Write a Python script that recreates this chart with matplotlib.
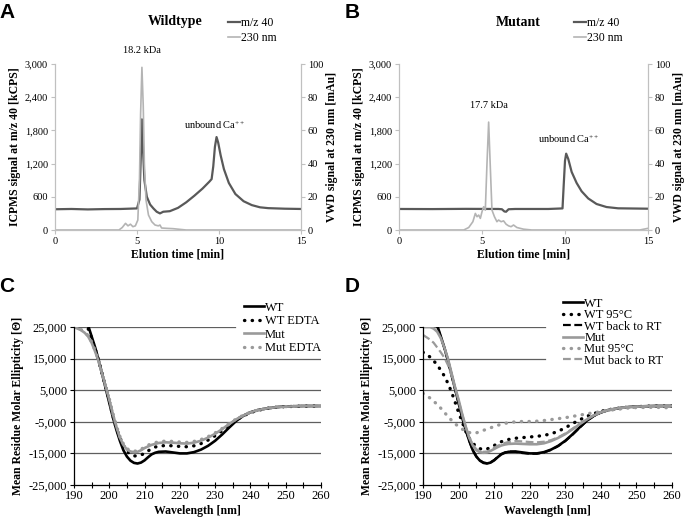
import matplotlib
matplotlib.use("Agg")
import matplotlib.pyplot as plt
from matplotlib.ticker import FuncFormatter, MultipleLocator

plt.rcParams["font.family"] = "serif"
plt.rcParams["font.serif"] = ["Liberation Serif"]
plt.rcParams["mathtext.fontset"] = "custom"
plt.rcParams["mathtext.rm"] = "Liberation Serif"
plt.rcParams["mathtext.it"] = "Liberation Serif:italic"
plt.rcParams["mathtext.bf"] = "Liberation Serif:bold"

# ---- A: wildtype SEC-ICPMS ----
a_icp_t = [0, 1, 2, 3, 4, 5.0, 5.15, 5.22, 5.3, 5.36, 5.45, 5.6, 5.8, 6.0, 6.2, 6.4, 6.6, 7.0,
           7.5, 8.0, 8.5, 9.0, 9.4, 9.55, 9.65, 9.75, 9.85, 9.95, 10.1, 10.3, 10.6, 11.0, 11.5,
           12.0, 12.5, 13.0, 14.0, 15.0]
a_icp_v = [375, 380, 372, 378, 380, 390, 550, 1200, 2000, 1500, 900, 600, 460, 390, 330, 300, 330, 340,
           400, 500, 620, 750, 870, 920, 1150, 1500, 1680, 1580, 1350, 1100, 850, 650, 520,
           450, 410, 395, 385, 380]
a_uv_t = [0, 3.9, 4.1, 4.3, 4.45, 4.6, 4.75, 4.9, 5.05, 5.15, 5.22, 5.3, 5.38, 5.45, 5.55, 5.7, 5.9,
          6.1, 6.3, 6.4, 6.5, 6.8, 7.2, 7.6, 8.0, 15]
a_uv_v = [0, 0, 1.5, 4.0, 2.5, 3.5, 2.0, 2.5, 6, 30, 70, 98, 75, 40, 18, 9, 5,
          3, 2.5, 3.0, 1.2, 1.0, 0.8, 0.4, 0, 0]

# ---- B: mutant SEC-ICPMS ----
b_icp_t = [0, 2, 4, 6.0, 6.2, 6.35, 6.45, 6.6, 7, 9, 9.85, 9.92, 10.0, 10.07, 10.2, 10.4, 10.7,
           11.0, 11.4, 11.9, 12.5, 13.2, 15]
b_icp_v = [380, 378, 382, 380, 375, 335, 330, 375, 380, 380, 390, 800, 1250, 1380, 1280, 1050, 850,
           700, 570, 470, 415, 392, 385]
b_uv_t = [0, 3.9, 4.2, 4.45, 4.6, 4.7, 4.8, 4.9, 5.0, 5.1, 5.2, 5.3, 5.4, 5.5, 5.6, 5.75, 5.9,
          6.0, 6.15, 6.3, 6.45, 6.6, 6.75, 6.9, 7.1, 7.5, 8.0, 14.5, 15]
b_uv_v = [0, 0, 1.5, 5, 10, 8, 9, 7, 11, 14, 12, 40, 65, 38, 12, 8, 5,
          6, 5, 5.5, 3.5, 2.5, 2, 3, 1.5, 0.5, 0, 0, 1]

# ---- C: CD spectra, EDTA ----
wl = [190, 192, 193, 194, 195, 196, 197, 198, 199, 200, 201, 202, 203, 204, 205, 206, 207, 208,
      209, 210, 211, 212, 213, 214, 216, 218, 220, 222, 224, 226, 228, 230, 232, 234, 236, 238,
      240, 242, 245, 248, 250, 255, 260]
wt = [34000, 30000, 28000, 25500, 22000, 18500, 14500, 10000, 5500, 1000, -3500, -7500, -11000,
      -14000, -16000, -17300, -18000, -18200, -17900, -17200, -16200, -15300, -14800, -14500,
      -14400, -14700, -15000, -15000, -14600, -13800, -12600, -11000, -9000, -6800, -4700, -3100,
      -2000, -1300, -700, -300, -150, 0, 0]
wt_edta = [30000, 27500, 26500, 24500, 21500, 18000, 14200, 10000, 5800, 1500, -3000, -7000,
           -10000, -12500, -14300, -15300, -15800, -15800, -15500, -15000, -14200, -13500, -13000,
           -12700, -12500, -12600, -12800, -12900, -12600, -11900, -10800, -9400, -7800, -6000,
           -4400, -3100, -2100, -1400, -700, -300, -200, -50, 0]
mut = [25000, 24000, 23200, 22000, 20000, 17200, 14000, 10000, 6000, 2000, -2500, -6500, -10000,
       -12300, -13800, -14400, -14600, -14500, -14000, -13300, -12800, -12300, -12000, -11700,
       -11500, -11600, -11800, -11900, -11600, -11000, -10000, -8800, -7300, -5700, -4200, -3000,
       -2000, -1300, -700, -300, -200, 0, 0]
mut_edta = [25000, 24200, 23400, 22300, 20300, 17500, 14300, 10300, 6300, 2300, -2200, -6200,
            -9600, -12000, -13500, -14100, -14300, -14200, -13700, -13000, -12400, -11900, -11600,
            -11300, -11100, -11200, -11400, -11500, -11200, -10600, -9700, -8500, -7100, -5500,
            -4100, -2900, -2000, -1300, -700, -300, -200, 0, 0]

# ---- D: CD spectra, heat ----
wt_95 = [17000, 15500, 14300, 13000, 11300, 9500, 7200, 4500, 1300, -2000, -5000, -8000, -10200,
         -11800, -12800, -13500, -13800, -13600, -13100, -12500, -11900, -11300, -10900, -10600,
         -10200, -10000, -9800, -9600, -9300, -8800, -8000, -6900, -5600, -4400, -3300, -2400,
         -1700, -1200, -700, -300, -200, 0, 0]
wt_rt = [33000, 29500, 27500, 25200, 21800, 18300, 14300, 9900, 5400, 900, -3600, -7600, -11000,
         -14000, -16000, -17200, -17900, -18100, -17800, -17100, -16100, -15200, -14700, -14400,
         -14500, -14900, -15100, -15100, -14700, -13900, -12700, -11100, -9100, -6900, -4800, -3200,
         -2100, -1400, -700, -300, -150, 0, 0]
mut_95 = [4000, 2500, 1500, 500, -700, -2000, -3300, -4500, -5600, -6500, -7300, -8000, -8400,
          -8600, -8500, -8100, -7700, -7300, -6900, -6500, -6100, -5800, -5500, -5300, -5000,
          -4900, -4900, -4800, -4600, -4300, -4000, -3700, -3300, -2900, -2500, -2100, -1800,
          -1400, -1000, -600, -500, -400, -600]
mut_rt = [22500, 21000, 20000, 18500, 17000, 15300, 13000, 9700, 5800, 1800, -2600, -6600, -10000,
          -12300, -13700, -14300, -14500, -14400, -13900, -13200, -12600, -12100, -11700, -11400,
          -11100, -11200, -11400, -11500, -11300, -10800, -9900, -8700, -7200, -5600, -4100, -2900,
          -1900, -1200, -700, -300, -200, 0, 0]
mut_d = [25000, 25000, 24500, 23500, 21500, 18500, 15000, 10500, 6000, 2000, -2500, -6500, -10000,
         -12500, -14000, -14600, -14800, -14700, -14200, -13600, -13000, -12500, -12200, -12000,
         -11900, -12000, -12100, -12100, -11800, -11100, -10100, -8900, -7400, -5800, -4300, -3000,
         -2000, -1300, -700, -300, -200, 0, 0]

cd_ticks = [-25000, -15000, -5000, 5000, 15000, 25000]

W, H = 685, 521
fig = plt.figure(figsize=(6.85, 5.21), dpi=100)


def box(l, t, r, b):
    return [l / W, 1 - b / H, (r - l) / W, (b - t) / H]


thou = FuncFormatter(lambda v, p: "{:,.0f}".format(v))
dark = "#595959"
light = "#b4b4b4"


def sec_panel(rect, t1, v1, t2, v2, title, ttl_x, leg_x, peak_lab, peak_xy, ca_xy):
    ax = fig.add_axes(rect)
    ax2 = ax.twinx()
    ax.plot(t1, v1, color=dark, lw=1.6)
    ax2.plot(t2, v2, color=light, lw=1.2)
    ax.set_xlim(0, 15)
    ax.set_ylim(0, 3000)
    ax2.set_ylim(0, 100)
    ax.set_xticks([0, 5, 10, 15])
    ax.set_yticks(range(0, 3001, 600))
    ax2.set_yticks(range(0, 101, 20))
    ax.yaxis.set_major_formatter(thou)
    for a in (ax, ax2):
        for s in a.spines.values():
            s.set_color("#c0c0c0")
            s.set_linewidth(0.8)
        a.spines["top"].set_visible(False)
        a.tick_params(labelsize=7.5, length=3, width=0.8, color="#c0c0c0", pad=2)
    ax.set_xlabel("Elution time [min]", fontsize=8.5, fontweight="bold", labelpad=2)
    ax.set_ylabel("ICPMS signal at m/z 40 [kCPS]", fontsize=8.5, fontweight="bold", labelpad=3)
    ax2.set_ylabel("VWD signal at 230 nm [mAu]", fontsize=8.5, fontweight="bold", labelpad=2)
    ax.text(peak_xy[0], peak_xy[1], peak_lab, fontsize=7.5, ha="center", va="center", clip_on=False)
    ax.text(ca_xy[0], ca_xy[1], "unbound Ca$^{++}$", fontsize=7.5, ha="center", va="center")
    fig.text(ttl_x / W, 1 - 22 / H, title, fontsize=10, fontweight="bold", ha="center", va="center")
    h1, = ax.plot([], [], color=dark, lw=1.6)
    h2, = ax.plot([], [], color=light, lw=1.2)
    fig.legend([h1, h2], ["m/z 40", "230 nm"], loc="upper left",
               bbox_to_anchor=(leg_x / W, 1 - 11 / H), frameon=False, fontsize=8.5,
               handlelength=1.0, handletextpad=0.15, labelspacing=0.3, borderpad=0)


sec_panel(box(55, 64, 301, 230), a_icp_t, a_icp_v, a_uv_t, a_uv_v, "Wildtype", 175, 222,
          "18.2 kDa", (5.3, 3250), (9.75, 1900))
sec_panel(box(399, 64, 648, 230), b_icp_t, b_icp_v, b_uv_t, b_uv_v, "Mutant", 518, 568,
          "17.7 kDa", (5.4, 2250), (10.2, 1650))


def cd_panel(rect, series, grid_end, leg_anchor, leg_space):
    ax = fig.add_axes(rect)
    for v in cd_ticks[1:]:
        ax.axhline(v, xmax=grid_end.get(v, 1.0), color="#5f5f5f", lw=0.9, zorder=0.5)
    for y, col, ls, lw, lab in series:
        ln, = ax.plot(wl, y, color=col, lw=lw, label=lab)
        if ls == "dot":
            ln.set_linestyle((0, (0.1, 2.2)))
            ln.set_dash_capstyle("round")
        elif ls == "dash":
            ln.set_linestyle((0, (3.5, 1.6)))
    ax.set_xlim(190, 260)
    ax.set_ylim(-25000, 25000)
    ax.set_xticks(range(190, 261, 10))
    ax.xaxis.set_minor_locator(MultipleLocator(5))
    ax.set_yticks(cd_ticks)
    ax.yaxis.set_major_formatter(thou)
    for s in ("top", "right"):
        ax.spines[s].set_visible(False)
    for s in ("left", "bottom"):
        ax.spines[s].set_color("black")
        ax.spines[s].set_linewidth(0.9)
    ax.tick_params(axis="x", which="both", direction="inout", length=5, width=0.8, labelsize=9, pad=1)
    ax.tick_params(axis="y", direction="out", length=3, width=0.8, labelsize=9, pad=2)
    ax.set_xlabel("Wavelength [nm]", fontsize=8.5, fontweight="bold", labelpad=2)
    ax.set_ylabel("Mean Residue Molar Ellipticity [\u0398]", fontsize=8.5, fontweight="bold", labelpad=3)
    ax.legend(loc="upper right", bbox_to_anchor=leg_anchor, fontsize=9, frameon=False,
              handlelength=1.6, handletextpad=0.1, labelspacing=leg_space, borderpad=0,
              borderaxespad=0)
    return ax


k, g = "black", "#9a9a9a"
cd_panel(box(74, 327, 321, 485),
         [(wt, k, "-", 1.9, "WT"), (wt_edta, k, "dot", 2.4, "WT EDTA"),
          (mut, g, "-", 1.9, "Mut"), (mut_edta, g, "dot", 2.4, "Mut EDTA")],
         {25000: 0.652}, (1.0, 1.16), 0.12)
cd_panel(box(423, 327, 672, 485),
         [(wt, k, "-", 1.9, "WT"), (wt_95, k, "dot", 2.4, "WT 95\u00b0C"),
          (wt_rt, k, "dash", 1.6, "WT back to RT"), (mut_d, g, "-", 1.9, "Mut"),
          (mut_95, g, "dot", 2.4, "Mut 95\u00b0C"), (mut_rt, g, "dash", 1.6, "Mut back to RT")],
         {25000: 0.49, 15000: 0.49}, (0.965, 1.185), -0.05)

for lab, x, y in (("A", 7, 13), ("B", 352, 13), ("C", 7, 287), ("D", 352, 287)):
    fig.text(x / W, 1 - y / H, lab, fontsize=15, fontweight="bold", family="Liberation Sans",
             ha="center", va="center")

fig.savefig("out.png", dpi=100)
